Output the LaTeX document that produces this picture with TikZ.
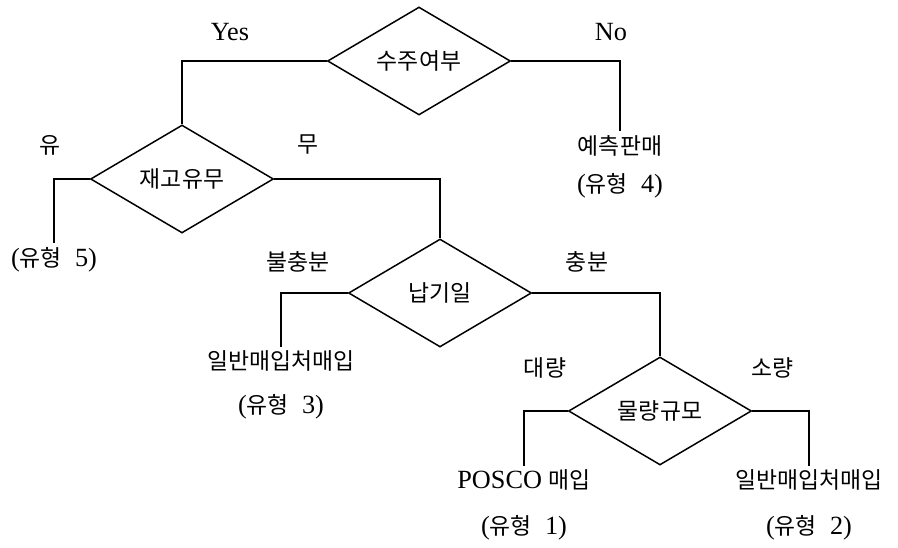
\documentclass[tikz,border=0pt]{standalone}
\usepackage{fontspec}
\setmainfont{Liberation Serif}[Scale=1.15]
\newfontfamily\kr{Noto Sans CJK KR}
\usetikzlibrary{shapes.geometric}

\tikzset{
    decision/.style={draw, diamond, aspect=1.7, inner sep=1pt, minimum width=3.66cm, minimum height=2.16cm, font=\kr},
    result/.style={align=center, inner sep=2pt},
    branch/.style={inner sep=1pt}
}

\begin{document}
\fontsize{13}{16}\selectfont
\begin{tikzpicture}[x=0.02cm, y=-0.02cm, line width=0.85pt]
    \useasboundingbox (0,0) rectangle (898,547);

    \node[decision] (order) at (419,61) {수주여부};
    \node[decision] (stock) at (182,179) {재고유무};
    \node[decision] (due) at (440,293) {납기일};
    \node[decision] (qty) at (660,411) {물량규모};

    \node[result] (t4) at (620,167) {{\kr 예측판매}\\[6pt]({\kr 유형}~~4)};
    \node[result] (t5) at (54,260) {({\kr 유형}~~5)};
    \node[result] (t3) at (281,385) {{\kr 일반매입처매입}\\[9pt]({\kr 유형}~~3)};
    \node[result] (t1) at (524,505) {POSCO~{\kr 매입}\\[10pt]({\kr 유형}~~1)};
    \node[result] (t2) at (809,505) {{\kr 일반매입처매입}\\[10pt]({\kr 유형}~~2)};

    \node[branch] (yes) at (230,32) {Yes};
    \node[branch] (no) at (611,32) {No};
    \node[branch, font=\kr] (you) at (50,145) {유};
    \node[branch, font=\kr] (mu) at (308,145) {무};
    \node[branch, font=\kr] (bul) at (298,262) {불충분};
    \node[branch, font=\kr] (chung) at (587,262) {충분};
    \node[branch, font=\kr] (dae) at (545,368) {대량};
    \node[branch, font=\kr] (so) at (772,368) {소량};

    \draw (order.west) -| (stock.north);
    \draw (order.east) -| (t4.north);
    \draw (stock.west) -| (t5.north);
    \draw (stock.east) -| (due.north);
    \draw (due.west) -| (t3.north);
    \draw (due.east) -| (qty.north);
    \draw (qty.west) -| (t1.north);
    \draw (qty.east) -| (t2.north);
\end{tikzpicture}
\end{document}
